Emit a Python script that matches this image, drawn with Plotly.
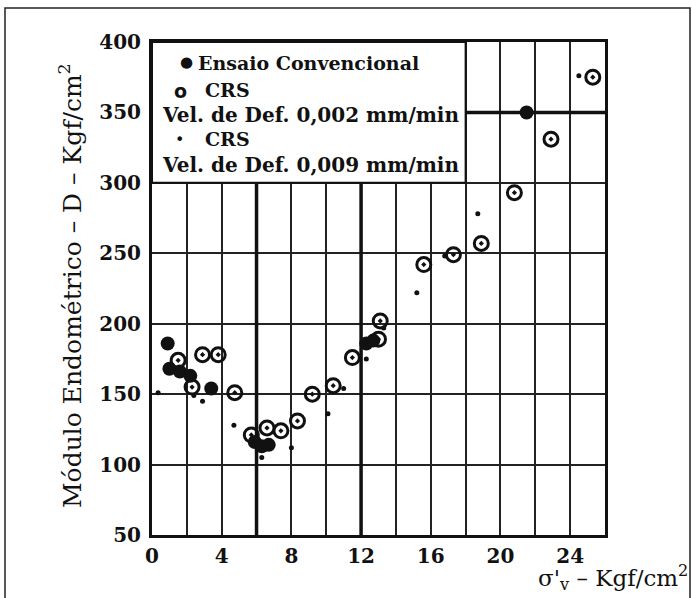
import plotly.graph_objects as go

# Ensaio Convencional (filled circles)
conv_x = [0.9, 1.0, 1.6, 2.2, 3.4, 5.9, 6.3, 6.7, 12.3, 12.7, 21.5]
conv_y = [186, 168, 166, 163, 154, 116, 113, 114, 186, 188, 350]

# CRS, 0,002 mm/min (open circles)
crs2_x = [1.5, 2.3, 2.9, 3.8, 4.75, 5.7, 6.6, 7.4, 8.35, 9.2, 10.4, 11.5, 13.0, 13.1, 15.6, 17.3, 18.9, 20.8, 22.9, 25.3]
crs2_y = [174, 155, 178, 178, 151, 121, 126, 124, 131, 150, 156, 176, 189, 202, 242, 249, 257, 293, 331, 375]

# CRS, 0,009 mm/min (small dots)
crs9_x = [0.35, 2.4, 2.9, 4.7, 6.3, 8.0, 10.1, 11.0, 12.3, 13.3, 15.2, 16.8, 18.7, 24.5]
crs9_y = [151, 149, 145, 128, 105, 112, 136, 154, 175, 197, 222, 248, 278, 376]

x_ticks = [0, 4, 8, 12, 16, 20, 24]
x_labels = [str(v) for v in x_ticks]
y_ticks = [50, 100, 150, 200, 250, 300, 350, 400]
y_labels = [str(v) for v in y_ticks]

W, H = 692, 598
L, R, T, B = 152, 87, 42, 63
pw, ph = W - L - R, H - T - B


def px(xp):
    return (xp - L) / pw


def py(yp):
    return (H - B - yp) / ph


SERIF = "DejaVu Serif"
INK = "#111111"
GRID = "#222222"

fig = go.Figure()
fig.add_trace(go.Scatter(x=crs9_x, y=crs9_y, mode="markers",
                         marker=dict(symbol="circle", size=5, color=INK)))
fig.add_trace(go.Scatter(x=conv_x, y=conv_y, mode="markers",
                         marker=dict(symbol="circle", size=14, color=INK)))
fig.add_trace(go.Scatter(x=crs2_x, y=crs2_y, mode="markers",
                         marker=dict(symbol="circle-open-dot", size=14, color=INK,
                                     line=dict(width=3, color=INK))))

shapes = []
# heavy verticals at 6 and 12, heavy horizontal at 350 right of the key
for xv in (6, 12):
    shapes.append(dict(type="line", xref="x", yref="y", x0=xv, x1=xv, y0=50, y1=300,
                       line=dict(color=INK, width=3.5), layer="between"))
shapes.append(dict(type="line", xref="x", yref="y", x0=18, x1=26, y0=350, y1=350,
                   line=dict(color=INK, width=3.5), layer="between"))
# key box
shapes.append(dict(type="rect", xref="x", yref="y", x0=0, x1=18, y0=300, y1=400,
                   fillcolor="white", line=dict(color=INK, width=2), layer="between"))
# outer frame
shapes.append(dict(type="rect", xref="paper", yref="paper",
                   x0=px(5), x1=px(690), y0=py(600), y1=py(8),
                   line=dict(color="#222222", width=1.5), layer="below"))

key_font = dict(family=SERIF, size=19, color=INK)
vel_font = dict(family=SERIF, size=20, color=INK)
ann = []
ann.append(dict(x=2.0, y=385.5, text="●", font=dict(family="DejaVu Sans", size=15, color=INK)))
ann.append(dict(x=2.55, y=385, text="<b>Ensaio Convencional</b>", xanchor="left", font=key_font))
ann.append(dict(x=1.65, y=365, text="<b>o</b>", font=dict(family="DejaVu Sans", size=19, color=INK)))
ann.append(dict(x=2.9, y=366, text="<b>CRS</b>", xanchor="left", font=key_font))
ann.append(dict(x=0.45, y=348, text="<b>Vel. de Def. 0,002 mm/min</b>", xanchor="left", font=vel_font))
ann.append(dict(x=1.55, y=330.5, text="•", font=dict(family="DejaVu Sans", size=16, color=INK)))
ann.append(dict(x=2.9, y=331, text="<b>CRS</b>", xanchor="left", font=key_font))
ann.append(dict(x=0.45, y=313, text="<b>Vel. de Def. 0,009 mm/min</b>", xanchor="left", font=vel_font))
for a in ann:
    a.update(xref="x", yref="y", showarrow=False, yanchor="middle")
    a.setdefault("xanchor", "center")

ann.append(dict(xref="paper", yref="paper", x=px(70), y=py(286), showarrow=False,
                text="Módulo Endométrico – D – Kgf/cm<sup>2</sup>", textangle=-90,
                font=dict(family=SERIF, size=25, color=INK), xanchor="center", yanchor="middle"))
ann.append(dict(xref="paper", yref="paper", x=px(690), y=py(577), showarrow=False,
                text="σ'<sub>v</sub> – Kgf/cm<sup>2</sup>",
                font=dict(family=SERIF, size=23, color=INK), xanchor="right", yanchor="middle"))

axis_common = dict(showgrid=True, gridcolor=GRID, gridwidth=2, zeroline=False,
                   showline=True, linecolor=INK, linewidth=3, mirror=True, ticks="",
                   tickfont=dict(family=SERIF, size=20, color=INK, weight="bold"))

fig.update_xaxes(range=[0, 26], tickmode="array", tickvals=x_ticks, ticktext=x_labels,
                 minor=dict(dtick=2, tick0=0, showgrid=True, gridcolor=GRID, gridwidth=2, ticks=""),
                 ticklabelstandoff=1, **axis_common)
fig.update_yaxes(range=[50, 400], tickmode="array", tickvals=y_ticks, ticktext=y_labels,
                 ticklabelstandoff=4, **axis_common)

fig.update_layout(width=W, height=H, margin=dict(l=L, r=R, t=T, b=B),
                  paper_bgcolor="white", plot_bgcolor="white", showlegend=False,
                  shapes=shapes, annotations=ann)

fig.write_html("out.html")
